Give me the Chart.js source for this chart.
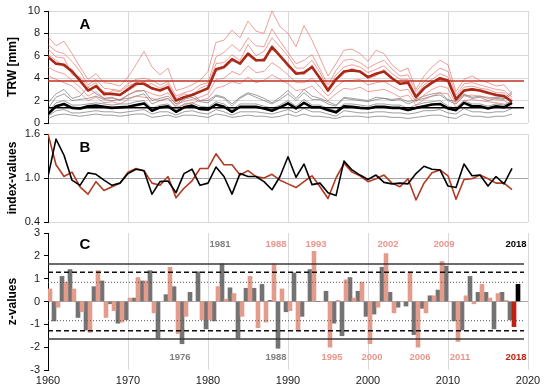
<!DOCTYPE html>
<html>
<head>
<meta charset="utf-8">
<script src="https://cdn.jsdelivr.net/npm/chart.js@4.4.0/dist/chart.umd.min.js"></script>
<style>
  body { margin: 0; background: #fff; }
  #wrap { position: relative; width: 550px; height: 390px; }
  #wrap canvas { position: absolute; left: 0; top: 0; }
</style>
</head>
<body>
<div id="wrap">
  <canvas id="panelA" width="550" height="390"></canvas>
  <canvas id="panelB" width="550" height="390"></canvas>
  <canvas id="panelC" width="550" height="390"></canvas>
</div>
<script>
// Years on the x axis
const years = [
  1960, 1961, 1962, 1963, 1964, 1965, 1966, 1967, 1968, 1969,
  1970, 1971, 1972, 1973, 1974, 1975, 1976, 1977, 1978, 1979,
  1980, 1981, 1982, 1983, 1984, 1985, 1986, 1987, 1988, 1989,
  1990, 1991, 1992, 1993, 1994, 1995, 1996, 1997, 1998, 1999,
  2000, 2001, 2002, 2003, 2004, 2005, 2006, 2007, 2008, 2009,
  2010, 2011, 2012, 2013, 2014, 2015, 2016, 2017, 2018
];

// Tick labels
const xTicks = [1960, 1970, 1980, 1990, 2000, 2010, 2020];
const yTicksA = [0, 2, 4, 6, 8, 10];
const yTicksB = [0.4, 1.0, 1.6];
const yTicksC = [-3, -2, -1, 0, 1, 2, 3];

// Panel A: tree-ring widths [mm], site mean chronologies
const redMean = [
  5.9, 5.3, 5.2, 4.6, 3.8, 2.9, 3.3, 2.6, 2.6, 2.5,
  3.0, 3.5, 3.5, 3.1, 2.9, 3.2, 2.0, 2.3, 2.5, 2.8,
  3.1, 4.8, 5.0, 5.7, 5.3, 6.2, 5.6, 5.6, 6.8, 6.0,
  5.2, 4.4, 4.5, 5.0, 4.0, 2.9, 3.9, 4.6, 4.7, 4.6,
  4.1, 4.4, 4.6, 4.0, 3.5, 3.6, 2.3, 3.1, 3.6, 4.0,
  3.8, 2.1, 2.9, 3.0, 2.9, 2.7, 2.5, 2.4, 1.9
];
const blackMean = [
  0.8, 1.5, 1.7, 1.35, 1.3, 1.5, 1.55, 1.45, 1.35, 1.4,
  1.45, 1.6, 1.75, 1.1, 1.4, 1.5, 1.0, 1.4, 1.55, 1.25,
  1.2, 1.65, 1.45, 1.0, 1.45, 1.45, 1.45, 1.3, 1.1, 1.4,
  1.75, 1.3, 1.8, 1.4, 1.4, 1.15, 0.95, 1.5, 1.45, 1.35,
  1.3, 1.45, 1.45, 1.35, 1.35, 1.15, 1.35, 1.5, 1.65, 1.7,
  1.3, 1.15, 1.8, 1.5, 1.5, 1.3, 1.5, 1.4, 1.8
];
const redLevel = 3.75;
const blackLevel = 1.37;

// Panel A: single trees, red site
const redTree1 = [
  7.7, 6.9, 7.3, 6.2, 5.0, 3.9, 4.4, 3.6, 3.5, 3.3,
  4.1, 5.2, 6.4, 5.0, 4.3, 4.9, 2.9, 3.1, 3.4, 3.8,
  4.6, 7.2, 7.4, 8.3, 7.6, 9.1, 8.2, 8.0, 10.0, 8.6,
  8.0, 6.8, 8.7, 7.4, 5.8, 4.2, 5.3, 6.5, 6.6, 6.2,
  5.5, 6.5, 6.2, 5.2, 4.6, 4.9, 3.0, 4.2, 5.0, 5.6,
  5.2, 2.8, 3.9, 4.2, 3.8, 3.6, 3.3, 3.4, 2.6
];
const redTree2 = [
  7.0, 6.4, 6.2, 5.5, 4.6, 3.4, 3.9, 3.1, 3.0, 2.9,
  3.5, 3.9, 4.0, 3.8, 3.4, 3.7, 2.4, 2.7, 2.9, 3.4,
  3.6, 5.9, 6.3, 7.0, 6.4, 7.6, 6.9, 6.8, 8.4, 7.3,
  6.3, 5.3, 5.6, 6.1, 4.8, 3.4, 4.7, 5.6, 5.7, 5.4,
  4.9, 5.3, 5.6, 4.8, 4.2, 4.3, 2.8, 3.7, 4.3, 4.9,
  4.6, 2.5, 3.5, 3.6, 3.4, 3.2, 3.0, 2.9, 2.3
];
const redTree3 = [
  6.1, 5.6, 5.0, 4.8, 3.6, 3.0, 3.2, 2.8, 2.5, 2.6,
  2.9, 3.3, 3.7, 3.0, 3.0, 3.1, 2.1, 2.2, 2.6, 2.7,
  3.2, 4.6, 4.9, 5.5, 5.4, 6.0, 5.5, 5.8, 6.5, 6.1,
  5.0, 4.6, 4.3, 5.2, 3.9, 2.8, 3.8, 4.4, 4.9, 4.5,
  4.0, 4.2, 4.8, 3.9, 3.4, 3.7, 2.2, 3.0, 3.5, 3.9,
  3.7, 2.0, 2.8, 3.1, 2.8, 2.6, 2.6, 2.3, 1.9
];
const redTree4 = [
  5.0, 4.6, 4.4, 3.8, 3.2, 2.4, 2.8, 2.2, 2.2, 2.1,
  2.5, 2.9, 2.9, 2.6, 2.4, 2.7, 1.7, 1.9, 2.1, 2.3,
  2.6, 3.9, 4.0, 4.6, 4.3, 5.1, 4.5, 4.6, 5.4, 4.9,
  4.3, 3.6, 3.6, 4.0, 3.2, 2.4, 3.2, 3.8, 3.8, 3.9,
  3.4, 3.6, 3.7, 3.3, 2.9, 3.0, 1.9, 2.5, 3.0, 3.3,
  3.1, 1.7, 2.4, 2.5, 2.4, 2.3, 2.1, 2.0, 1.6
];
const redTree5 = [
  4.2, 3.9, 3.6, 3.3, 2.7, 2.0, 2.3, 1.8, 1.9, 1.7,
  2.1, 2.4, 2.3, 2.2, 2.0, 2.2, 1.4, 1.6, 1.8, 2.0,
  2.2, 3.1, 3.3, 3.7, 3.5, 4.1, 3.6, 3.8, 4.3, 3.9,
  3.5, 2.9, 3.0, 3.3, 2.6, 2.0, 2.6, 3.1, 3.0, 3.2,
  2.8, 2.9, 3.0, 2.7, 2.3, 2.5, 1.6, 2.1, 2.4, 2.7,
  2.6, 1.4, 2.0, 2.1, 2.0, 1.9, 1.8, 1.7, 1.4
];
const redTree6 = [
  6.6, 5.9, 5.8, 4.3, 4.1, 3.2, 3.6, 2.4, 2.9, 2.8,
  3.3, 3.6, 3.4, 3.5, 3.1, 3.5, 2.2, 2.6, 2.4, 3.1,
  3.4, 5.3, 5.4, 6.1, 5.6, 7.0, 6.0, 6.4, 7.6, 6.8,
  6.0, 4.9, 4.9, 5.6, 4.5, 3.1, 4.3, 5.0, 5.2, 5.0,
  4.5, 4.8, 5.1, 4.4, 3.9, 3.9, 2.5, 3.4, 3.9, 4.4,
  4.1, 2.3, 3.2, 3.3, 3.1, 3.0, 2.7, 2.7, 2.1
];

// Panel A: single trees, black site
const grayTree1 = [
  1.3, 2.3, 2.6, 2.0, 2.1, 2.2, 2.4, 2.1, 2.0, 2.1,
  2.2, 2.4, 2.6, 1.7, 2.0, 2.2, 1.5, 2.1, 2.3, 1.9,
  1.8, 2.4, 2.2, 1.5, 2.2, 2.6, 2.3, 2.0, 1.7, 2.1,
  2.6, 2.0, 2.7, 2.1, 2.1, 1.7, 1.5, 2.2, 2.1, 2.0,
  1.9, 2.1, 2.2, 2.0, 2.1, 1.7, 2.0, 2.2, 2.4, 2.5,
  2.0, 1.7, 2.5, 2.2, 2.3, 2.0, 2.2, 2.1, 2.6
];
const grayTree2 = [
  1.0, 1.8, 2.0, 1.6, 1.6, 1.7, 1.8, 1.7, 1.6, 1.7,
  1.7, 1.9, 2.0, 1.3, 1.6, 1.7, 1.2, 1.7, 1.8, 1.5,
  1.4, 1.9, 1.7, 1.2, 1.7, 1.7, 1.7, 1.5, 1.3, 1.6,
  2.0, 1.5, 2.1, 1.6, 1.6, 1.3, 1.1, 1.7, 1.7, 1.6,
  1.5, 1.7, 1.7, 1.6, 1.6, 1.3, 1.6, 1.8, 1.9, 2.0,
  1.5, 1.3, 2.0, 1.7, 1.7, 1.5, 1.7, 1.6, 2.0
];
const grayTree3 = [
  0.8, 1.4, 1.6, 1.3, 1.2, 1.4, 1.5, 1.4, 1.3, 1.3,
  1.4, 1.5, 1.7, 1.1, 1.3, 1.4, 1.0, 1.4, 1.5, 1.2,
  1.1, 1.6, 1.4, 1.0, 1.4, 1.4, 1.4, 1.3, 1.1, 1.4,
  1.7, 1.3, 1.8, 1.4, 1.4, 1.1, 0.9, 1.5, 1.4, 1.3,
  1.3, 1.4, 1.4, 1.3, 1.3, 1.1, 1.3, 1.5, 1.6, 1.7,
  1.3, 1.1, 1.8, 1.5, 1.5, 1.3, 1.5, 1.4, 1.8
];
const grayTree4 = [
  0.6, 1.1, 1.2, 0.9, 0.9, 1.0, 1.1, 1.0, 1.0, 0.9,
  1.0, 1.1, 1.2, 0.8, 1.0, 1.0, 0.7, 1.0, 1.1, 0.9,
  0.8, 1.2, 1.0, 0.7, 1.0, 1.0, 1.0, 0.9, 0.8, 1.0,
  1.2, 0.9, 1.3, 1.0, 1.0, 0.8, 0.6, 1.1, 1.0, 0.9,
  0.9, 1.0, 1.0, 0.9, 0.9, 0.8, 0.9, 1.1, 1.1, 1.2,
  0.9, 0.8, 1.3, 1.0, 1.0, 0.9, 1.0, 1.0, 1.3
];
const grayTree5 = [
  0.4, 0.7, 0.8, 0.7, 0.6, 0.7, 0.8, 0.7, 0.7, 0.6,
  0.7, 0.8, 0.8, 0.5, 0.6, 0.7, 0.5, 0.7, 0.7, 0.6,
  0.5, 0.8, 0.7, 0.5, 0.6, 0.7, 0.6, 0.6, 0.5, 0.6,
  0.8, 0.6, 0.8, 0.6, 0.6, 0.5, 0.4, 0.6, 0.6, 0.6,
  0.5, 0.6, 0.6, 0.5, 0.5, 0.4, 0.5, 0.6, 0.7, 0.7,
  0.5, 0.4, 0.8, 0.6, 0.6, 0.5, 0.6, 0.6, 0.8
];
const grayTree6 = [
  1.8, 2.6, 3.0, 2.2, 2.4, 3.2, 2.6, 2.2, 2.3, 2.0,
  2.5, 2.8, 2.9, 2.0, 2.2, 2.4, 1.7, 2.2, 2.6, 2.0,
  2.0, 2.5, 2.3, 1.7, 2.3, 2.7, 2.5, 2.2, 1.8, 2.3,
  2.9, 2.2, 3.0, 2.4, 2.2, 1.9, 1.6, 2.3, 2.2, 2.1,
  2.0, 2.3, 2.2, 2.1, 2.2, 1.9, 2.1, 2.4, 2.6, 2.7,
  2.1, 1.9, 2.6, 2.3, 2.4, 2.2, 2.3, 2.2, 2.8
];

// Panel B: index values
const indexBlack = [
  1.02, 1.53, 1.31, 0.97, 0.90, 1.07, 1.05, 0.97, 0.90, 0.93,
  1.06, 1.12, 1.10, 0.78, 0.95, 0.96, 0.80, 1.06, 1.12, 0.90,
  0.93, 1.15, 1.02, 0.78, 1.06, 1.02, 1.02, 0.95, 0.84, 1.02,
  1.29, 1.01, 1.19, 0.91, 0.93, 0.80, 0.76, 1.23, 1.11, 1.04,
  0.98, 1.04, 0.94, 0.92, 0.93, 0.92, 1.06, 1.16, 1.12, 1.11,
  0.89, 0.87, 1.19, 1.03, 1.04, 0.89, 1.02, 0.92, 1.13
];
const indexRed = [
  1.60, 1.18, 1.02, 1.08, 0.88, 0.78, 0.95, 0.83, 0.88, 0.93,
  1.08, 1.13, 1.10, 0.93, 0.90, 1.02, 0.73, 0.86, 0.96, 1.13,
  1.13, 1.33, 1.18, 1.18, 1.04, 1.10, 1.02, 1.00, 1.05, 0.97,
  0.92, 0.87, 0.95, 1.03, 0.88, 0.72, 1.00, 1.20, 1.08, 1.03,
  0.95, 0.99, 1.04, 0.93, 0.88, 0.99, 0.70, 0.93, 1.07, 1.11,
  1.03, 0.71, 0.98, 0.99, 1.04, 0.99, 0.93, 0.93, 0.84
];

// Panel C: z-values
const zPink = [
  0.55, -0.25, 0.85, 0.55, -0.45, -1.35, 1.35, -0.7, -0.4, -0.9,
  0.15, 1.05, 0.9, -0.5, 0.0, 1.5, -1.4, -0.65, 0.0, -0.8,
  -0.8, 0.65, 0.1, 0.35, -0.65, 1.1, -1.15, -0.9, 1.65, 0.55,
  -0.4, -1.25, 0.0, 2.2, 0.0, -2.0, 0.05, 0.95, 0.15, 0.85,
  -1.85, -0.25, 2.1, -0.5, 0.0, 1.3, -2.0, -0.5, 0.25, 1.75,
  0.0, -1.75, 0.25, -0.1, 0.75, 0.15, 0.35, 0.05, -1.1
];
const zGray = [
  -0.85, 1.1, 1.4, -0.7, -1.25, 0.65, 0.9, -0.1, -0.95, -0.8,
  0.15, 0.9, 1.35, -1.6, 0.3, 0.65, -1.85, 0.4, 1.3, -1.2,
  -0.85, 1.65, 0.6, -1.6, 0.58, 0.58, 0.75, 0.05, -2.05, -0.45,
  1.25, -0.65, 1.4, 0.0, 0.45, -0.95, -1.5, 1.05, 0.45, -0.65,
  -0.55, 1.5, 0.4, -0.25, -0.2, -1.45, -0.3, 0.25, 0.5, 1.55,
  -0.85, -1.25, 1.1, 0.4, 0.4, -1.2, 0.4, -0.8, 0.75
];
// z thresholds (solid, dashed, dotted)
const zThresholds = [1.645, 1.28, 0.84];

// Extreme year labels in panel C
const labelsAbove = [1981, 1988, 1993, 2002, 2009, 2018];
const labelsAboveSeries = ["gray", "pink", "pink", "pink", "pink", "lastUp"];
const labelsBelow = [1976, 1988, 1995, 2000, 2006, 2011, 2018];
const labelsBelowSeries = ["gray", "gray", "pink", "pink", "pink", "pink", "lastDown"];


const FONT = "'Liberation Sans', Arial, sans-serif";
const GRID = "#d9d9d9";
const lastIdx = years.length - 1;
const pts = arr => years.map((y, i) => ({ x: y, y: arr[i] }));
const level = v => [{ x: years[0], y: v }, { x: years[lastIdx] + 1.5, y: v }];

// x axis shared by all three panels
function xAxis(showLabels) {
    return {
        type: "linear",
        min: 1960,
        max: 2020,
        offset: false,
        afterBuildTicks: s => { s.ticks = xTicks.map(v => ({ value: v })); },
        afterFit: s => { s.height = showLabels ? 20 : 0; },
        grid: { color: GRID, drawTicks: false, offset: false },
        border: { display: false },
        ticks: {
            display: showLabels,
            autoSkip: false,
            padding: 4,
            color: "#1a1a1a",
            font: { family: FONT, size: 11 },
            callback: v => String(v)
        }
    };
}

function yAxis(min, max, tickVals, title, gridColor, fmt) {
    return {
        type: "linear",
        min: min,
        max: max,
        afterBuildTicks: s => { s.ticks = tickVals.map(v => ({ value: v })); },
        afterFit: s => { s.width = 48; },
        grid: { color: gridColor, tickColor: "#000", tickLength: 4 },
        border: { color: "#000", width: 1 },
        ticks: {
            autoSkip: false,
            padding: 4,
            color: "#1a1a1a",
            font: { family: FONT, size: 11 },
            callback: fmt
        },
        title: {
            display: true,
            text: title,
            color: "#000",
            font: { family: FONT, size: 12, weight: "bold" },
            padding: { top: 5, bottom: 0 }
        }
    };
}

// Draws the panel letter (A, B, C) in the top-left of the plot area
function letterPlugin(letter, dy) {
    return {
        id: "letter" + letter,
        afterDraw(chart) {
            const { ctx, chartArea } = chart;
            ctx.save();
            ctx.font = "bold 15px " + FONT;
            ctx.fillStyle = "#000";
            ctx.textAlign = "center";
            ctx.textBaseline = "middle";
            ctx.fillText(letter, chartArea.left + 37, chartArea.top + dy);
            ctx.restore();
        }
    };
}

const baseOptions = {
    responsive: false,
    animation: false,
    events: [],
    elements: { point: { radius: 0 }, line: { tension: 0, borderJoinStyle: "round" } },
    plugins: { legend: { display: false }, tooltip: { enabled: false } }
};

// Panel A
new Chart(document.getElementById("panelA"), {
    type: "line",
    data: {
        datasets: [
            { data: pts(redMean), borderColor: "#a92818", borderWidth: 2.6 },
            { data: pts(blackMean), borderColor: "#000", borderWidth: 2.6 },
            { data: level(redLevel), borderColor: "#c0301e", borderWidth: 1.5 },
            { data: level(blackLevel), borderColor: "#000", borderWidth: 1.5 },
            ...[redTree1, redTree2, redTree3, redTree4, redTree5, redTree6].map(s => ({
                data: pts(s), borderColor: "rgba(232,108,100,0.65)", borderWidth: 1
            })),
            ...[grayTree1, grayTree2, grayTree3, grayTree4, grayTree5, grayTree6].map(s => ({
                data: pts(s), borderColor: "rgba(95,95,95,0.6)", borderWidth: 1
            }))
        ]
    },
    options: {
        ...baseOptions,
        layout: { padding: { left: 0, right: 22, top: 11, bottom: 267 } },
        scales: {
            x: xAxis(false),
            y: yAxis(0, 10, yTicksA, "TRW [mm]", GRID, v => String(v))
        }
    },
    plugins: [letterPlugin("A", 14)]
});

// Panel B
new Chart(document.getElementById("panelB"), {
    type: "line",
    data: {
        datasets: [
            { data: pts(indexBlack), borderColor: "#000", borderWidth: 1.6 },
            { data: pts(indexRed), borderColor: "#b03a22", borderWidth: 1.6 }
        ]
    },
    options: {
        ...baseOptions,
        layout: { padding: { left: 0, right: 22, top: 134, bottom: 168 } },
        scales: {
            x: xAxis(false),
            y: yAxis(0.4, 1.6, yTicksB, "index-values",
                ctx => Math.abs(ctx.tick.value - 1) < 1e-6 ? "#a6a6a6" : GRID,
                v => v.toFixed(1))
        }
    },
    plugins: [letterPlugin("B", 14)]
});

// Panel C
const thresholdStyles = [
    { borderColor: "#3a3a3a", borderWidth: 1.6, borderDash: [] },
    { borderColor: "#111", borderWidth: 1.3, borderDash: [5, 3] },
    { borderColor: "#555", borderWidth: 1, borderDash: [1, 2] }
];
const thresholdSets = [];
zThresholds.forEach((t, k) => {
    [t, -t].forEach(v => {
        thresholdSets.push({ type: "line", data: level(v), ...thresholdStyles[k] });
    });
});

const zLabelPlugin = {
    id: "zLabels",
    afterDraw(chart) {
        const { ctx, scales } = chart;
        const colors = { gray: "#808080", pink: "#e8968c", lastUp: "#000", lastDown: "#c0200f" };
        ctx.save();
        ctx.font = "bold 9.5px " + FONT;
        ctx.textAlign = "center";
        ctx.textBaseline = "middle";
        labelsAbove.forEach((yr, i) => {
            ctx.fillStyle = colors[labelsAboveSeries[i]];
            ctx.fillText(String(yr), scales.x.getPixelForValue(yr + 0.5), scales.y.getPixelForValue(2.5));
        });
        labelsBelow.forEach((yr, i) => {
            ctx.fillStyle = colors[labelsBelowSeries[i]];
            ctx.fillText(String(yr), scales.x.getPixelForValue(yr + 0.5), scales.y.getPixelForValue(-2.45));
        });
        ctx.restore();
    }
};

new Chart(document.getElementById("panelC"), {
    type: "line",
    data: {
        datasets: [
            ...thresholdSets,
            {
                type: "bar",
                data: years.map((y, i) => ({ x: y + 0.5, y: zPink[i] })),
                backgroundColor: years.map((y, i) => i === lastIdx ? "#c0200f" : "#e39c8c"),
                categoryPercentage: 1,
                barPercentage: 1
            },
            {
                type: "bar",
                data: years.map((y, i) => ({ x: y + 0.5, y: zGray[i] })),
                backgroundColor: years.map((y, i) => i === lastIdx ? "#000" : "#737373"),
                categoryPercentage: 1,
                barPercentage: 1
            }
        ]
    },
    options: {
        ...baseOptions,
        layout: { padding: { left: 0, right: 22, top: 233, bottom: 0 } },
        scales: {
            x: xAxis(true),
            y: yAxis(-3, 3, yTicksC, "z-values",
                ctx => ctx.tick.value === 0 ? "#a6a6a6" : "rgba(0,0,0,0)",
                v => String(v))
        }
    },
    plugins: [letterPlugin("C", 12), zLabelPlugin]
});
</script>
</body>
</html>
